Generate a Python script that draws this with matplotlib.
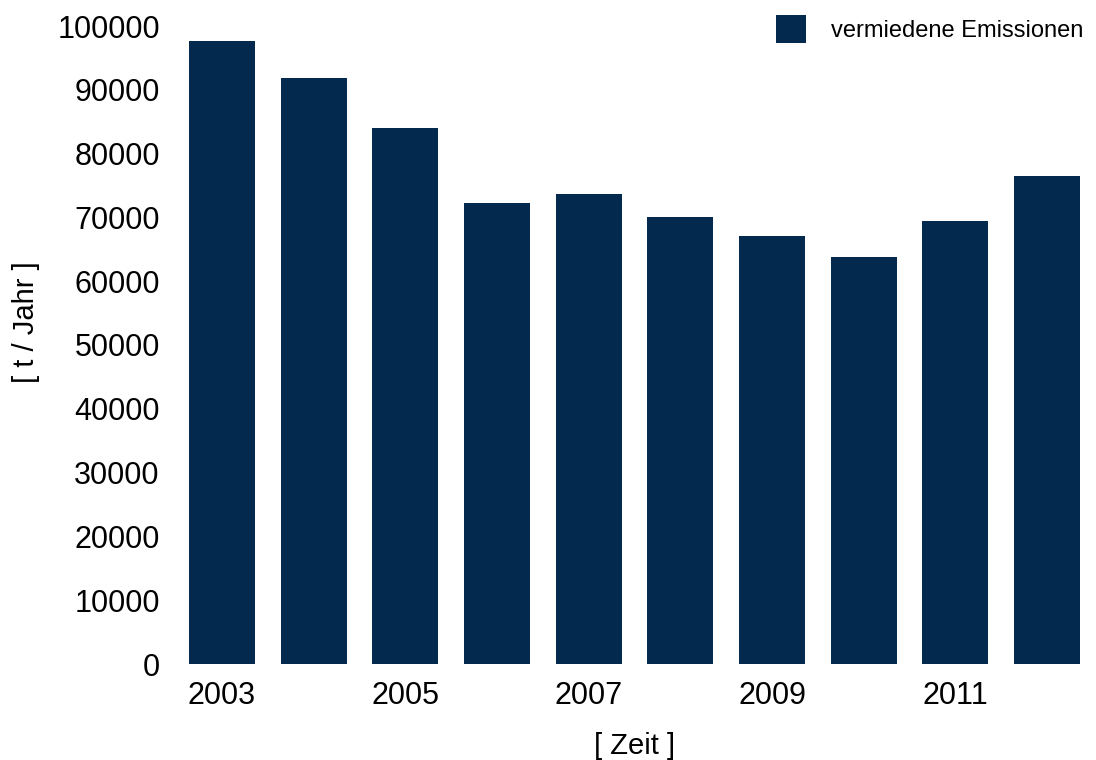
import numpy as np
import matplotlib
matplotlib.use("Agg")
import matplotlib.pyplot as plt

plt.rcParams["font.family"] = ["Liberation Sans", "DejaVu Sans"]

# avoided emissions per year
years = [2003, 2004, 2005, 2006, 2007, 2008, 2009, 2010, 2011, 2012]
emissions = [97600, 91800, 84000, 72300, 73700, 70100, 67100, 63800, 69400, 76500]
tick_years = [2003, 2005, 2007, 2009, 2011]
y_ticks = [0, 10000, 20000, 30000, 40000, 50000, 60000, 70000, 80000, 90000, 100000]

bar_color = "#03294f"

fig = plt.figure(figsize=(10.96, 7.6), dpi=100)
ax = fig.add_axes([189 / 1096, 96 / 760, (1080 - 189) / 1096, (734 - 96) / 760])

x = np.arange(len(years))
ax.bar(x, emissions, width=0.72, color=bar_color, label="vermiedene Emissionen")

ax.set_xlim(-0.36, len(years) - 1 + 0.36)
ax.set_ylim(0, 100000)

ax.set_yticks(y_ticks)
ax.set_yticklabels([str(v) for v in y_ticks], fontsize=22)
ax.set_xticks([years.index(y) for y in tick_years])
ax.set_xticklabels([str(y) for y in tick_years], fontsize=22)
ax.tick_params(axis="y", length=0, pad=21)
ax.tick_params(axis="x", length=0, pad=12)

for side in ax.spines.values():
    side.set_visible(False)

ax.set_xlabel("[ Zeit ]", fontsize=21, labelpad=15)
ax.set_ylabel("[ t / Jahr ]", fontsize=21, va="center")
ax.yaxis.set_label_coords(26 / 1096, 1 - 322 / 760, transform=fig.transFigure)

ax.legend(loc="upper right", bbox_to_anchor=(1083 / 1096, 1 - 15 / 760),
          bbox_transform=fig.transFigure, frameon=False, fontsize=17,
          handlelength=1.27, handleheight=1.48, handletextpad=1.05,
          borderpad=0, borderaxespad=0)

fig.savefig("out.png", dpi=100)
